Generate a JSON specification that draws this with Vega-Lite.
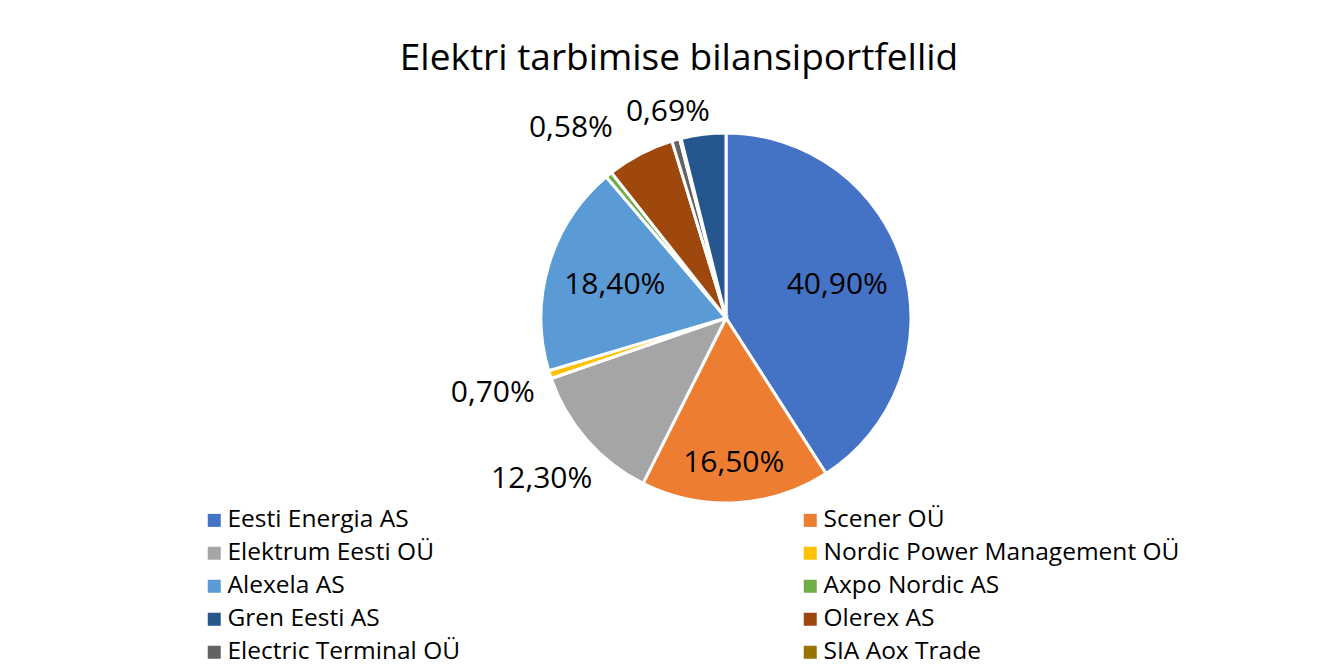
{
  "$schema": "https://vega.github.io/schema/vega-lite/v6.json",
  "width": 1000,
  "height": 456,
  "autosize": "none",
  "padding": {"left": 226, "top": 90, "right": 114, "bottom": 120},
  "background": "white",
  "config": {"view": {"stroke": null}},
  "title": {
    "text": "Elektri tarbimise bilansiportfellid",
    "font": "Open Sans",
    "fontSize": 37,
    "fontWeight": "normal",
    "color": "#000000",
    "anchor": "middle",
    "dx": -47,
    "offset": -18
  },
  "data": {
    "values": [
      {"name": "Eesti Energia AS", "share": 40.9, "rank": 1, "label": "40,90%"},
      {"name": "Scener OÜ", "share": 16.5, "rank": 2, "label": "16,50%"},
      {"name": "Elektrum Eesti OÜ", "share": 12.3, "rank": 3, "label": "12,30%"},
      {"name": "Nordic Power Management OÜ", "share": 0.7, "rank": 4, "label": "0,70%"},
      {"name": "Alexela AS", "share": 18.4, "rank": 5, "label": "18,40%"},
      {"name": "Axpo Nordic AS", "share": 0.58, "rank": 6, "label": "0,58%"},
      {"name": "Olerex AS", "share": 5.9, "rank": 7, "label": ""},
      {"name": "Electric Terminal OÜ", "share": 0.69, "rank": 8, "label": "0,69%"},
      {"name": "SIA Aox Trade", "share": 0.13, "rank": 9, "label": ""},
      {"name": "Gren Eesti AS", "share": 3.9, "rank": 10, "label": ""}
    ]
  },
  "encoding": {
    "theta": {"field": "share", "type": "quantitative", "stack": true},
    "order": {"field": "rank", "type": "quantitative", "sort": "ascending"}
  },
  "layer": [
    {
      "mark": {"type": "arc", "outerRadius": 185, "stroke": "white", "strokeWidth": 3},
      "encoding": {
        "color": {
          "field": "name",
          "type": "nominal",
          "scale": {
            "domain": ["Eesti Energia AS", "Scener OÜ", "Elektrum Eesti OÜ", "Nordic Power Management OÜ", "Alexela AS", "Axpo Nordic AS", "Gren Eesti AS", "Olerex AS", "Electric Terminal OÜ", "SIA Aox Trade"],
            "range": ["#4472C4", "#ED7D31", "#A5A5A5", "#FFC000", "#5B9BD5", "#70AD47", "#25578E", "#9E480E", "#636363", "#997300"]
          },
          "legend": {
            "title": null,
            "orient": "none",
            "legendX": -24,
            "legendY": 418,
            "direction": "horizontal",
            "columns": 2,
            "columnPadding": 337,
            "rowPadding": 8,
            "symbolType": "square",
            "symbolSize": 169,
            "symbolStrokeWidth": 0,
            "symbolOffset": 0,
            "labelOffset": 1,
            "labelFont": "Open Sans",
            "labelFontSize": 24.5,
            "labelColor": "#000000",
            "labelLimit": 600,
            "padding": 0
          }
        }
      }
    },
    {
      "mark": {"type": "text", "radius": 116, "font": "Open Sans", "fontSize": 30, "color": "#000000"},
      "encoding": {
        "detail": {"field": "name"},
        "text": {"condition": {"test": "indexof(['Eesti Energia AS','Alexela AS'], datum.name) >= 0", "field": "label"}, "value": ""}
      }
    },
    {
      "mark": {"type": "text", "radius": 145, "font": "Open Sans", "fontSize": 30, "color": "#000000"},
      "encoding": {
        "detail": {"field": "name"},
        "text": {"condition": {"test": "datum.name === 'Scener OÜ'", "field": "label"}, "value": ""}
      }
    },
    {
      "mark": {"type": "text", "radius": 245, "font": "Open Sans", "fontSize": 30, "color": "#000000"},
      "encoding": {
        "detail": {"field": "name"},
        "text": {"condition": {"test": "indexof(['Elektrum Eesti OÜ','Nordic Power Management OÜ','Axpo Nordic AS'], datum.name) >= 0", "field": "label"}, "value": ""}
      }
    },
    {
      "mark": {"type": "text", "radius": 214, "font": "Open Sans", "fontSize": 30, "color": "#000000"},
      "encoding": {
        "detail": {"field": "name"},
        "text": {"condition": {"test": "datum.name === 'Electric Terminal OÜ'", "field": "label"}, "value": ""}
      }
    }
  ]
}
